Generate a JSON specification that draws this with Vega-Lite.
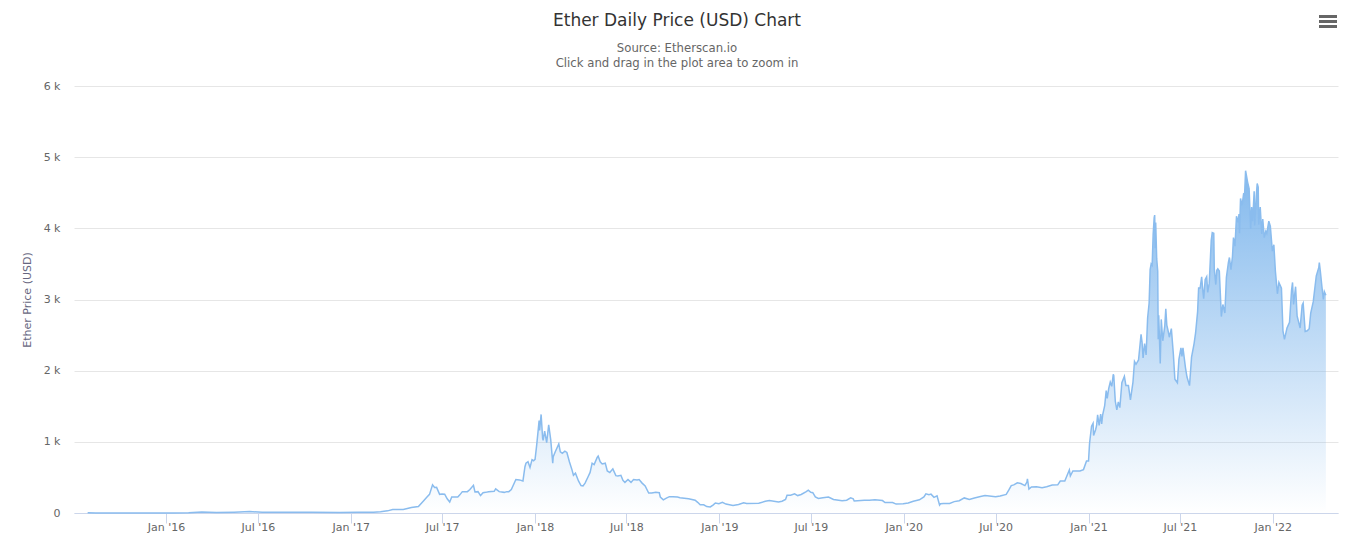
{
  "$schema": "https://vega.github.io/schema/vega-lite/v6.json",
  "width": 1348,
  "height": 544,
  "autosize": {"type": "fit", "contains": "padding"},
  "padding": {"left": 21, "top": -6, "right": 10, "bottom": 12},
  "background": "#ffffff",
  "config": {"view": {"stroke": null}},
  "title": {
    "text": "Ether Daily Price (USD) Chart",
    "subtitle": ["Source: Etherscan.io", "Click and drag in the plot area to zoom in"],
    "anchor": "middle",
    "dx": -29,
    "offset": -56,
    "font": "DejaVu Sans",
    "fontSize": 17,
    "fontWeight": "normal",
    "color": "#333333",
    "subtitleFont": "DejaVu Sans",
    "subtitleFontSize": 11.7,
    "subtitleColor": "#666666",
    "subtitleLineHeight": 15,
    "subtitlePadding": 13
  },
  "data": {
    "values": [
      {"date":"2015-07-30","price":3},{"date":"2015-08-15","price":1},{"date":"2015-10-01","price":1},{"date":"2015-12-01","price":1},{"date":"2016-01-15","price":1},
      {"date":"2016-02-15","price":5},{"date":"2016-03-12","price":14},{"date":"2016-04-10","price":8},{"date":"2016-05-15","price":12},{"date":"2016-06-15","price":20},{"date":"2016-07-10","price":11},{"date":"2016-09-01","price":12},{"date":"2016-10-15","price":12},{"date":"2016-12-10","price":8},{"date":"2017-01-15","price":10},{"date":"2017-02-15","price":12},
      {"date":"2017-03-01","price":17},{"date":"2017-03-15","price":30},{"date":"2017-03-25","price":50},{"date":"2017-04-15","price":48},{"date":"2017-05-01","price":78},{"date":"2017-05-15","price":92},{"date":"2017-05-25","price":170},{"date":"2017-06-01","price":225},{"date":"2017-06-06","price":262},{"date":"2017-06-12","price":395},{"date":"2017-06-16","price":358},{"date":"2017-06-20","price":360},{"date":"2017-06-26","price":262},{"date":"2017-07-01","price":268},{"date":"2017-07-06","price":265},{"date":"2017-07-11","price":200},{"date":"2017-07-16","price":155},{"date":"2017-07-20","price":225},{"date":"2017-07-24","price":225},{"date":"2017-08-01","price":225},{"date":"2017-08-05","price":255},{"date":"2017-08-10","price":300},{"date":"2017-08-14","price":300},{"date":"2017-08-20","price":300},{"date":"2017-08-25","price":330},{"date":"2017-09-01","price":388},{"date":"2017-09-04","price":295},{"date":"2017-09-10","price":300},{"date":"2017-09-15","price":245},{"date":"2017-09-20","price":285},{"date":"2017-09-25","price":290},{"date":"2017-10-01","price":300},{"date":"2017-10-12","price":305},{"date":"2017-10-15","price":340},{"date":"2017-10-22","price":300},{"date":"2017-11-01","price":290},{"date":"2017-11-06","price":300},{"date":"2017-11-10","price":300},{"date":"2017-11-15","price":330},{"date":"2017-11-24","price":470},{"date":"2017-12-01","price":465},{"date":"2017-12-08","price":450},{"date":"2017-12-12","price":650},{"date":"2017-12-14","price":700},{"date":"2017-12-18","price":720},{"date":"2017-12-22","price":640},{"date":"2017-12-26","price":750},{"date":"2017-12-29","price":735},
      {"date":"2018-01-01","price":755},{"date":"2018-01-04","price":940},{"date":"2018-01-07","price":1150},{"date":"2018-01-09","price":1300},{"date":"2018-01-10","price":1160},{"date":"2018-01-13","price":1385},{"date":"2018-01-16","price":1050},{"date":"2018-01-17","price":1020},{"date":"2018-01-20","price":1150},{"date":"2018-01-24","price":990},{"date":"2018-01-28","price":1240},{"date":"2018-02-01","price":1030},{"date":"2018-02-05","price":700},{"date":"2018-02-06","price":790},{"date":"2018-02-10","price":860},{"date":"2018-02-17","price":970},{"date":"2018-02-20","price":860},{"date":"2018-02-24","price":840},{"date":"2018-03-01","price":870},{"date":"2018-03-05","price":850},{"date":"2018-03-10","price":720},{"date":"2018-03-15","price":610},{"date":"2018-03-18","price":530},{"date":"2018-03-22","price":560},{"date":"2018-03-28","price":450},{"date":"2018-04-02","price":385},{"date":"2018-04-06","price":380},{"date":"2018-04-10","price":420},{"date":"2018-04-16","price":510},{"date":"2018-04-20","price":570},{"date":"2018-04-24","price":700},{"date":"2018-04-28","price":680},{"date":"2018-05-04","price":780},{"date":"2018-05-06","price":800},{"date":"2018-05-10","price":720},{"date":"2018-05-14","price":690},{"date":"2018-05-20","price":700},{"date":"2018-05-24","price":590},{"date":"2018-05-29","price":570},{"date":"2018-06-04","price":620},{"date":"2018-06-10","price":525},{"date":"2018-06-14","price":520},{"date":"2018-06-20","price":530},{"date":"2018-06-24","price":460},{"date":"2018-06-28","price":430},{"date":"2018-07-04","price":470},{"date":"2018-07-10","price":430},{"date":"2018-07-15","price":470},{"date":"2018-07-22","price":465},{"date":"2018-07-26","price":470},{"date":"2018-08-01","price":420},{"date":"2018-08-07","price":380},{"date":"2018-08-14","price":280},{"date":"2018-08-20","price":280},{"date":"2018-08-28","price":290},{"date":"2018-09-04","price":285},{"date":"2018-09-06","price":225},{"date":"2018-09-12","price":185},{"date":"2018-09-18","price":210},{"date":"2018-09-24","price":230},{"date":"2018-10-01","price":230},{"date":"2018-10-10","price":225},{"date":"2018-10-15","price":215},{"date":"2018-11-01","price":200},{"date":"2018-11-14","price":180},{"date":"2018-11-19","price":150},{"date":"2018-11-24","price":115},{"date":"2018-12-01","price":115},{"date":"2018-12-07","price":90},{"date":"2018-12-14","price":85},{"date":"2018-12-20","price":115},{"date":"2018-12-24","price":140},{"date":"2018-12-31","price":130},
      {"date":"2019-01-07","price":150},{"date":"2019-01-14","price":125},{"date":"2019-01-28","price":105},{"date":"2019-02-08","price":120},{"date":"2019-02-18","price":145},{"date":"2019-02-24","price":135},{"date":"2019-03-20","price":137},{"date":"2019-04-02","price":165},{"date":"2019-04-10","price":175},{"date":"2019-04-28","price":155},{"date":"2019-05-05","price":165},{"date":"2019-05-12","price":190},{"date":"2019-05-15","price":250},{"date":"2019-05-22","price":250},{"date":"2019-05-30","price":270},{"date":"2019-06-05","price":245},{"date":"2019-06-12","price":260},{"date":"2019-06-22","price":300},{"date":"2019-06-26","price":320},{"date":"2019-07-01","price":290},{"date":"2019-07-05","price":285},{"date":"2019-07-10","price":225},{"date":"2019-07-16","price":205},{"date":"2019-07-25","price":215},{"date":"2019-08-05","price":225},{"date":"2019-08-15","price":190},{"date":"2019-09-01","price":172},{"date":"2019-09-10","price":180},{"date":"2019-09-18","price":212},{"date":"2019-09-23","price":200},{"date":"2019-09-25","price":168},{"date":"2019-10-15","price":180},{"date":"2019-10-25","price":180},{"date":"2019-11-05","price":185},{"date":"2019-11-20","price":175},{"date":"2019-11-25","price":147},{"date":"2019-12-10","price":147},{"date":"2019-12-17","price":125},{"date":"2019-12-31","price":130},
      {"date":"2020-01-10","price":140},{"date":"2020-01-20","price":165},{"date":"2020-02-01","price":185},{"date":"2020-02-10","price":225},{"date":"2020-02-14","price":270},{"date":"2020-02-20","price":258},{"date":"2020-02-24","price":265},{"date":"2020-03-01","price":220},{"date":"2020-03-07","price":240},{"date":"2020-03-12","price":112},{"date":"2020-03-14","price":130},{"date":"2020-03-20","price":135},{"date":"2020-04-01","price":135},{"date":"2020-04-10","price":160},{"date":"2020-04-20","price":172},{"date":"2020-04-30","price":212},{"date":"2020-05-10","price":190},{"date":"2020-05-20","price":210},{"date":"2020-06-01","price":232},{"date":"2020-06-10","price":245},{"date":"2020-07-01","price":228},{"date":"2020-07-10","price":240},{"date":"2020-07-22","price":262},{"date":"2020-07-27","price":320},{"date":"2020-08-01","price":385},{"date":"2020-08-06","price":395},{"date":"2020-08-13","price":425},{"date":"2020-08-20","price":415},{"date":"2020-08-28","price":385},{"date":"2020-09-01","price":435},{"date":"2020-09-02","price":480},{"date":"2020-09-04","price":385},{"date":"2020-09-05","price":335},{"date":"2020-09-10","price":365},{"date":"2020-09-20","price":370},{"date":"2020-10-01","price":355},{"date":"2020-10-10","price":370},{"date":"2020-10-21","price":392},{"date":"2020-11-01","price":395},{"date":"2020-11-06","price":450},{"date":"2020-11-15","price":450},{"date":"2020-11-24","price":605},{"date":"2020-11-26","price":520},{"date":"2020-12-01","price":590},{"date":"2020-12-15","price":590},{"date":"2020-12-22","price":610},{"date":"2020-12-28","price":730},
      {"date":"2021-01-01","price":730},{"date":"2021-01-03","price":975},{"date":"2021-01-04","price":1040},{"date":"2021-01-07","price":1220},{"date":"2021-01-10","price":1260},{"date":"2021-01-11","price":1090},{"date":"2021-01-15","price":1170},{"date":"2021-01-17","price":1230},{"date":"2021-01-19","price":1380},{"date":"2021-01-22","price":1230},{"date":"2021-01-25","price":1390},{"date":"2021-01-27","price":1250},{"date":"2021-01-29","price":1380},{"date":"2021-02-02","price":1510},{"date":"2021-02-05","price":1720},{"date":"2021-02-07","price":1610},{"date":"2021-02-10","price":1750},{"date":"2021-02-13","price":1840},{"date":"2021-02-16","price":1780},{"date":"2021-02-19","price":1950},{"date":"2021-02-20","price":1930},{"date":"2021-02-23","price":1570},{"date":"2021-02-26","price":1450},{"date":"2021-03-01","price":1560},{"date":"2021-03-04","price":1480},{"date":"2021-03-08","price":1830},{"date":"2021-03-13","price":1920},{"date":"2021-03-16","price":1790},{"date":"2021-03-21","price":1790},{"date":"2021-03-25","price":1590},{"date":"2021-03-30","price":1840},{"date":"2021-04-02","price":2130},{"date":"2021-04-05","price":2090},{"date":"2021-04-10","price":2150},{"date":"2021-04-15","price":2510},{"date":"2021-04-17","price":2400},{"date":"2021-04-19","price":2180},{"date":"2021-04-22","price":2380},{"date":"2021-04-25","price":2220},{"date":"2021-04-28","price":2740},{"date":"2021-05-01","price":2950},{"date":"2021-05-03","price":3420},{"date":"2021-05-05","price":3500},{"date":"2021-05-07","price":3480},{"date":"2021-05-09","price":3920},{"date":"2021-05-11","price":4150},{"date":"2021-05-12","price":4187},{"date":"2021-05-13","price":3720},{"date":"2021-05-14","price":4080},{"date":"2021-05-16","price":3570},{"date":"2021-05-18","price":3400},{"date":"2021-05-19","price":2440},{"date":"2021-05-20","price":2780},{"date":"2021-05-23","price":2100},{"date":"2021-05-25","price":2720},{"date":"2021-05-28","price":2420},{"date":"2021-06-01","price":2630},{"date":"2021-06-03","price":2870},{"date":"2021-06-05","price":2640},{"date":"2021-06-07","price":2580},{"date":"2021-06-10","price":2470},{"date":"2021-06-14","price":2590},{"date":"2021-06-18","price":2230},{"date":"2021-06-21","price":1880},{"date":"2021-06-26","price":1830},{"date":"2021-06-29","price":2160},{"date":"2021-07-03","price":2320},{"date":"2021-07-05","price":2200},{"date":"2021-07-07","price":2320},{"date":"2021-07-12","price":2040},{"date":"2021-07-15","price":1910},{"date":"2021-07-20","price":1790},{"date":"2021-07-24","price":2190},{"date":"2021-07-29","price":2380},{"date":"2021-08-01","price":2530},{"date":"2021-08-05","price":2830},{"date":"2021-08-07","price":3160},{"date":"2021-08-10","price":3160},{"date":"2021-08-13","price":3320},{"date":"2021-08-15","price":3150},{"date":"2021-08-17","price":3010},{"date":"2021-08-20","price":3280},{"date":"2021-08-23","price":3320},{"date":"2021-08-25","price":3100},{"date":"2021-08-28","price":3230},{"date":"2021-09-01","price":3830},{"date":"2021-09-03","price":3940},{"date":"2021-09-06","price":3930},{"date":"2021-09-07","price":3430},{"date":"2021-09-10","price":3210},{"date":"2021-09-12","price":3410},{"date":"2021-09-14","price":3430},{"date":"2021-09-17","price":3400},{"date":"2021-09-21","price":2760},{"date":"2021-09-24","price":2930},{"date":"2021-09-28","price":2810},{"date":"2021-10-01","price":3310},{"date":"2021-10-05","price":3520},{"date":"2021-10-07","price":3590},{"date":"2021-10-10","price":3420},{"date":"2021-10-13","price":3600},{"date":"2021-10-15","price":3870},{"date":"2021-10-18","price":3750},{"date":"2021-10-21","price":4170},{"date":"2021-10-24","price":4080},{"date":"2021-10-26","price":4200},{"date":"2021-10-27","price":3930},{"date":"2021-10-29","price":4420},{"date":"2021-11-01","price":4320},{"date":"2021-11-04","price":4480},{"date":"2021-11-06","price":4470},{"date":"2021-11-08","price":4810},{"date":"2021-11-10","price":4730},{"date":"2021-11-12","price":4650},{"date":"2021-11-15","price":4560},{"date":"2021-11-18","price":3990},{"date":"2021-11-20","price":4300},{"date":"2021-11-22","price":4100},{"date":"2021-11-25","price":4520},{"date":"2021-11-26","price":4040},{"date":"2021-11-29","price":4440},{"date":"2021-12-01","price":4630},{"date":"2021-12-03","price":4580},{"date":"2021-12-04","price":4050},{"date":"2021-12-07","price":4300},{"date":"2021-12-10","price":3920},{"date":"2021-12-12","price":4130},{"date":"2021-12-15","price":3870},{"date":"2021-12-18","price":3960},{"date":"2021-12-20","price":3930},{"date":"2021-12-24","price":4100},{"date":"2021-12-27","price":4030},{"date":"2021-12-31","price":3680},
      {"date":"2022-01-03","price":3770},{"date":"2022-01-06","price":3400},{"date":"2022-01-10","price":3080},{"date":"2022-01-13","price":3240},{"date":"2022-01-18","price":3160},{"date":"2022-01-21","price":2560},{"date":"2022-01-24","price":2440},{"date":"2022-01-29","price":2600},{"date":"2022-02-03","price":2680},{"date":"2022-02-07","price":3130},{"date":"2022-02-09","price":3240},{"date":"2022-02-11","price":2930},{"date":"2022-02-15","price":3180},{"date":"2022-02-18","price":2770},{"date":"2022-02-24","price":2600},{"date":"2022-02-28","price":2920},{"date":"2022-03-02","price":2950},{"date":"2022-03-06","price":2550},{"date":"2022-03-10","price":2560},{"date":"2022-03-14","price":2590},{"date":"2022-03-17","price":2810},{"date":"2022-03-22","price":2970},{"date":"2022-03-28","price":3330},{"date":"2022-04-02","price":3450},{"date":"2022-04-03","price":3520},{"date":"2022-04-05","price":3400},{"date":"2022-04-08","price":3190},{"date":"2022-04-11","price":3000},{"date":"2022-04-13","price":3110},{"date":"2022-04-16","price":3060}
    ]
  },
  "encoding": {
    "x": {
      "field": "date",
      "type": "temporal",
      "scale": {"type": "utc", "domain": ["2015-07-03", "2022-05-10"]},
      "axis": {
        "title": null,
        "format": "%b '%y",
        "tickCount": {"interval": "month", "step": 6},
        "grid": false,
        "domainColor": "#ccd6eb",
        "tickColor": "#ccd6eb",
        "tickSize": 10,
        "labelFont": "DejaVu Sans",
        "labelFontSize": 11,
        "labelColor": "#666666",
        "labelPadding": -2,
        "labelFlush": false
      }
    },
    "y": {
      "field": "price",
      "type": "quantitative",
      "scale": {"domain": [0, 6000], "nice": false},
      "axis": {
        "title": "Ether Price (USD)",
        "titleFont": "DejaVu Sans",
        "titleFontSize": 11,
        "titleFontWeight": "normal",
        "titleColor": "#666680",
        "titlePadding": 11,
        "values": [0, 1000, 2000, 3000, 4000, 5000, 6000],
        "labelExpr": "datum.value === 0 ? '0' : datum.value / 1000 + ' k'",
        "labelFont": "DejaVu Sans",
        "labelFontSize": 11,
        "labelColor": "#666666",
        "labelPadding": 14,
        "ticks": false,
        "domain": false,
        "grid": true,
        "gridColor": "#e6e6e6"
      }
    }
  },
  "layer": [
    {
      "mark": {
        "type": "area",
        "color": {
          "gradient": "linear",
          "x1": 0, "y1": 1, "x2": 0, "y2": 0,
          "stops": [
            {"offset": 0, "color": "rgba(124,181,236,0)"},
            {"offset": 1, "color": "rgba(124,181,236,0.95)"}
          ]
        }
      }
    },
    {
      "mark": {"type": "line", "color": "#8abcee", "strokeWidth": 1.5}
    },
    {
      "mark": {
        "type": "point",
        "filled": true,
        "color": "#666666",
        "opacity": 1,
        "size": 289,
        "shape": "M-1,-0.76H1V-0.41H-1ZM-1,-0.18H1V0.18H-1ZM-1,0.41H1V0.76H-1Z"
      },
      "encoding": {
        "x": {"datum": {"year": 2022, "month": 4, "date": 20, "utc": true}, "type": "temporal"},
        "y": {"datum": 6906, "type": "quantitative"}
      }
    }
  ]
}
